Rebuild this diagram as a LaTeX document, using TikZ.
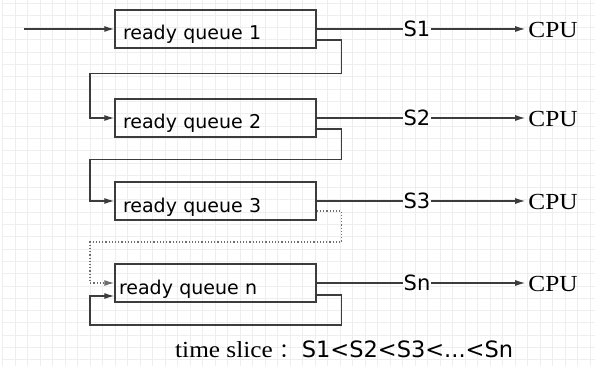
\documentclass[tikz,border=0pt]{standalone}
\usepackage{fontspec}
\usetikzlibrary{calc,arrows.meta}
\newfontfamily\qfont{DejaVu Sans}
\newfontfamily\cpufont{Liberation Serif}[FakeStretch=1.1]
\newfontfamily\cjk{Noto Sans CJK SC}
\definecolor{linegray}{HTML}{3C3C3C}
\definecolor{dotgray}{HTML}{6E6E6E}
\definecolor{gridgray}{HTML}{EEEEEE}
\tikzset{>={Latex[length=10pt,width=6pt]}}
\tikzset{
  queue/.style = {draw=linegray, line width=1.4pt, minimum height=38pt,
    text width=185pt, inner xsep=8pt, inner ysep=0pt,
    text height=22pt, text depth=0pt, font=\qfont\fontsize{19}{22}\selectfont},
  slice/.style = {inner sep=0.5pt, font=\qfont\fontsize{21}{24}\selectfont},
  cpu/.style = {inner sep=3pt, text height=17pt, text depth=0pt, font=\cpufont\fontsize{23}{26}\selectfont},
  flow/.style = {draw=linegray, line width=1.2pt},
  gridline/.style = {draw=gridgray, line width=0.8pt}
}

\begin{document}
\begin{tikzpicture}[x=1pt,y=-1pt]
  \useasboundingbox[fill=white] (0,0) rectangle (601,366);
  % background grid
  \foreach \gx in {0,...,47}
    \draw[gridline] (2.5+12.5*\gx,0) -- (2.5+12.5*\gx,366);
  \foreach \gy in {0,...,29}
    \draw[gridline] (2.5,3+12.3*\gy) -- (595,3+12.3*\gy);
  % queues
  \node[queue] (q1) at (215.5,29)  {ready queue 1};
  \node[queue] (q2) at (215.5,118) {ready queue 2};
  \node[queue] (q3) at (215.5,201) {ready queue 3};
  \node[queue] (qn) at (215.5,283) {\hspace*{-4pt}ready queue n};
  % time slices and cpus
  \node[slice] (s1) at (417,29)  {S1};
  \node[slice] (s2) at (417,118) {S2};
  \node[slice] (s3) at (417,201) {S3};
  \node[slice] (sn) at (417,283) {Sn};
  \node[cpu] (c1) at (553,29)  {CPU};
  \node[cpu] (c2) at (553,118) {CPU};
  \node[cpu] (c3) at (553,201) {CPU};
  \node[cpu] (cn) at (553,283) {CPU};
  % entry
  \coordinate (in) at (24,29);
  \draw[flow,->] (in) -- (q1.west);
  % to the cpu
  \foreach \q/\s/\c in {q1/s1/c1,q2/s2/c2,q3/s3/c3,qn/sn/cn} {
    \draw[flow] (\q.east) -- (\s.west);
    \draw[flow,->] (\s.east) -- (\c.west);
  }
  % feedback between queues
  \coordinate (m12) at (90,73.5);
  \coordinate (m23) at (90,159.5);
  \coordinate (m3n) at (90,242);
  \coordinate (mnn) at (90,325);
  \draw[flow,->] ($(q1.east)+(0,11)$) -- ++(25,0) |- (m12) |- (q2.west);
  \draw[flow,->] ($(q2.east)+(0,11)$) -- ++(25,0) |- (m23) |- (q3.west);
  \draw[flow,->,draw=dotgray,dotted] ($(q3.east)+(0,10)$) -- ++(25,0) |- (m3n) |- (qn.west);
  \draw[flow,->] ($(qn.east)+(0,12)$) -- ++(25,0) |- (mnn) |- ($(qn.west)+(0,13)$);
  % note
  \node[anchor=base west,inner sep=0pt] (note) at (175,357)
    {{\cpufont\fontsize{23}{26}\selectfont time slice}\hspace{4pt}\makebox[25pt]{\cjk\fontsize{20}{24}\selectfont ：}{\qfont\fontsize{22.5}{26}\selectfont S1<S2<S3<...<Sn}};
\end{tikzpicture}
\end{document}
